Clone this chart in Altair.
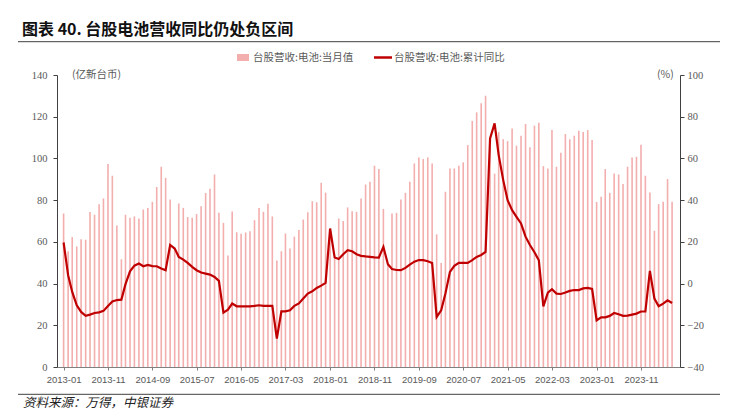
import altair as alt
import pandas as pd

# ---------------- data ----------------
months = [d.strftime("%Y-%m-%dT00:00:00") for d in pd.date_range("2013-01-01", "2024-06-01", freq="MS")]

monthly_revenue = [
    73.6, 55.5, 62.3, 57.8, 61.3, 61.0, 74.3, 73.0, 78.0, 80.8, 97.3, 91.7,      # 2013
    67.9, 51.7, 73.0, 71.5, 72.2, 71.2, 75.5, 76.2, 79.2, 86.3, 96.0, 90.7,      # 2014
    80.3, 56.0, 78.4, 76.3, 71.9, 71.5, 73.3, 77.1, 83.4, 85.5, 92.3, 73.9,      # 2015
    69.1, 53.5, 74.6, 64.6, 63.9, 64.5, 65.1, 70.4, 76.2, 74.4, 78.3, 72.2,      # 2016
    51.1, 55.5, 64.0, 56.8, 62.5, 65.7, 70.7, 74.2, 79.5, 79.0, 88.3, 83.6,      # 2017
    64.6, 52.0, 71.2, 70.0, 76.5, 74.7, 74.4, 80.8, 87.5, 88.8, 96.5, 94.9,      # 2018
    75.8, 49.0, 73.6, 73.9, 80.3, 83.5, 88.8, 97.6, 100.5, 99.7, 100.5, 97.6,    # 2019
    63.6, 49.9, 84.0, 95.2, 95.2, 96.5, 98.1, 106.4, 118.0, 122.1, 126.4, 130.1, # 2020
    106.0, 92.7, 112.6, 109.2, 108.3, 114.4, 106.1, 110.9, 116.5, 105.3, 115.7, 117.1,  # 2021
    96.3, 95.2, 113.6, 96.0, 102.7, 111.7, 109.2, 110.9, 113.3, 112.7, 113.6, 108.8,    # 2022
    79.1, 81.6, 94.9, 83.5, 92.8, 92.3, 87.7, 96.0, 100.5, 100.8, 106.6, 91.7,   # 2023
    83.7, 65.3, 78.1, 79.2, 90.1, 79.2,                                          # 2024
]

cumulative_yoy = [
    19.7, 4.0, -4.0, -10.4, -13.6, -15.5, -14.9, -14.1, -13.8, -13.1, -10.7, -8.6,   # 2013
    -7.9, -7.7, -0.3, 5.9, 8.6, 9.6, 8.3, 8.9, 8.4, 8.3, 7.2, 6.4,                   # 2014
    18.5, 16.8, 12.8, 11.5, 9.9, 8.0, 6.4, 5.3, 4.8, 4.3, 3.2, 1.3,                  # 2015
    -13.9, -12.5, -9.6, -10.9, -10.9, -10.9, -10.9, -10.7, -10.4, -10.7, -10.7, -10.7,  # 2016
    -26.4, -13.3, -13.3, -12.8, -10.7, -9.5, -7.2, -4.8, -3.7, -2.1, -1.0, 0.3,      # 2017
    26.4, 12.5, 11.8, 14.1, 16.0, 15.5, 14.1, 13.3, 13.0, 12.8, 12.6, 12.5,          # 2018
    17.6, 9.3, 7.0, 6.5, 6.4, 7.5, 9.1, 10.5, 11.3, 11.2, 10.7, 9.9,                 # 2019
    -16.0, -12.8, -4.8, 5.6, 8.5, 9.9, 9.9, 9.9, 11.2, 12.8, 13.7, 15.2,             # 2020
    69.6, 76.8, 61.6, 49.6, 40.0, 35.2, 32.0, 28.8, 22.5, 18.5, 15.0, 11.2,          # 2021
    -10.9, -4.3, -2.7, -4.8, -5.0, -4.3, -3.5, -3.1, -3.1, -2.3, -2.1, -2.6,         # 2022
    -17.6, -16.2, -16.2, -15.5, -14.1, -14.7, -15.5, -15.4, -14.9, -14.4, -13.4, -13.4,  # 2023
    6.1, -7.2, -10.9, -9.6, -8.0, -9.3,                                              # 2024
]

x_tick_labels = ["2013-01", "2013-11", "2014-09", "2015-07", "2016-05", "2017-03", "2018-01",
                 "2018-11", "2019-09", "2020-07", "2021-05", "2022-03", "2023-01", "2023-11"]
left_ticks = [0, 20, 40, 60, 80, 100, 120, 140]
right_ticks = [-40, -20, 0, 20, 40, 60, 80, 100]

title_text = "图表 40. 台股电池营收同比仍处负区间"
bar_name = "台股营收:电池:当月值"
line_name = "台股营收:电池:累计同比"
left_unit = "(亿新台币)"
right_unit = "(%)"
source_text = "资料来源：万得，中银证券"

df = pd.DataFrame({"month": months, "rev": monthly_revenue, "yoy": cumulative_yoy})

# ---------------- style ----------------
W, H = 623, 292
BAR_COLOR = "#F3AEAE"
LINE_COLOR = "#C00000"
TXT = "#595959"
CJK = "Noto Sans CJK SC"

x_values = [alt.DateTime(year=int(s[:4]), month=int(s[5:]), date=1) for s in x_tick_labels]
x_scale = alt.Scale(domain=[alt.DateTime(year=2012, month=12, date=21),
                            alt.DateTime(year=2024, month=6, date=21)])

bars = alt.Chart(df).mark_bar(width=1.6, color=BAR_COLOR).encode(
    x=alt.X("month:T", scale=x_scale,
            axis=alt.Axis(values=x_values, format="%Y-%m", title=None, grid=False,
                          labelFont="Liberation Sans", labelFontSize=9.5, labelColor=TXT,
                          tickSize=3, tickColor="#808080", domainColor="#808080",
                          labelPadding=4, labelFlush=False, labelOverlap=False)),
    y=alt.Y("rev:Q", scale=alt.Scale(domain=[0, 140], nice=False),
            axis=alt.Axis(orient="left", values=left_ticks, title=None, grid=False,
                          labelFont="Liberation Serif", labelFontSize=10.5, labelColor=TXT,
                          tickSize=4, tickColor="#404040", domainColor="#404040",
                          labelPadding=6)),
)

line = alt.Chart(df).mark_line(color=LINE_COLOR, strokeWidth=2.2).encode(
    x=alt.X("month:T", scale=x_scale),
    y=alt.Y("yoy:Q", scale=alt.Scale(domain=[-40, 100], nice=False),
            axis=alt.Axis(orient="right", values=right_ticks, title=None, grid=False,
                          labelFont="Liberation Serif", labelFontSize=10.5, labelColor=TXT,
                          tickSize=4, tickColor="#404040", domainColor="#404040",
                          labelPadding=3)),
)

one = alt.Data(values=[{"k": 0}])


def text_at(txt, x, y, size, color=TXT, weight="normal", style="normal", align="left"):
    return alt.Chart(one).mark_text(
        text=txt, align=align, baseline="middle", font=CJK, fontSize=size,
        color=color, fontWeight=weight, fontStyle=style,
    ).encode(x=alt.value(x), y=alt.value(y))


title = text_at(title_text, -35, -45.5, 16, color="#111111", weight="bold")
top_rule = alt.Chart(one).mark_rule(color="#404040", strokeWidth=1).encode(
    x=alt.value(-39), x2=alt.value(663), y=alt.value(-33.3))
bottom_rule = alt.Chart(one).mark_rule(color="#404040", strokeWidth=1).encode(
    x=alt.value(-39), x2=alt.value(663), y=alt.value(319.3))
source = text_at(source_text, -34, 328, 12.5, color="#222222", style="italic")

leg_rect = alt.Chart(one).mark_rect(color=BAR_COLOR).encode(
    x=alt.value(180), x2=alt.value(192), y=alt.value(-21), y2=alt.value(-14))
leg_text1 = text_at(bar_name, 196, -17.5, 10.5)
leg_line = alt.Chart(one).mark_rule(color=LINE_COLOR, strokeWidth=2.5).encode(
    x=alt.value(317), x2=alt.value(335), y=alt.value(-17.5))
leg_text2 = text_at(line_name, 337, -17.5, 10.5)

unit_left = text_at(left_unit, 15, 0, 10.5)
unit_right = text_at(right_unit, 600, 0, 10.5)

chart = alt.layer(
    bars, line, title, top_rule, bottom_rule, source,
    leg_rect, leg_text1, leg_line, leg_text2, unit_left, unit_right,
).resolve_scale(y="independent").properties(
    width=W, height=H,
    autosize=alt.AutoSizeParams(type="none"),
    padding={"left": 49, "top": 67, "right": 44, "bottom": 44},
    background="white",
).configure_view(stroke=None)

chart.save("out.html", embed_options={"renderer": "svg", "actions": False})
